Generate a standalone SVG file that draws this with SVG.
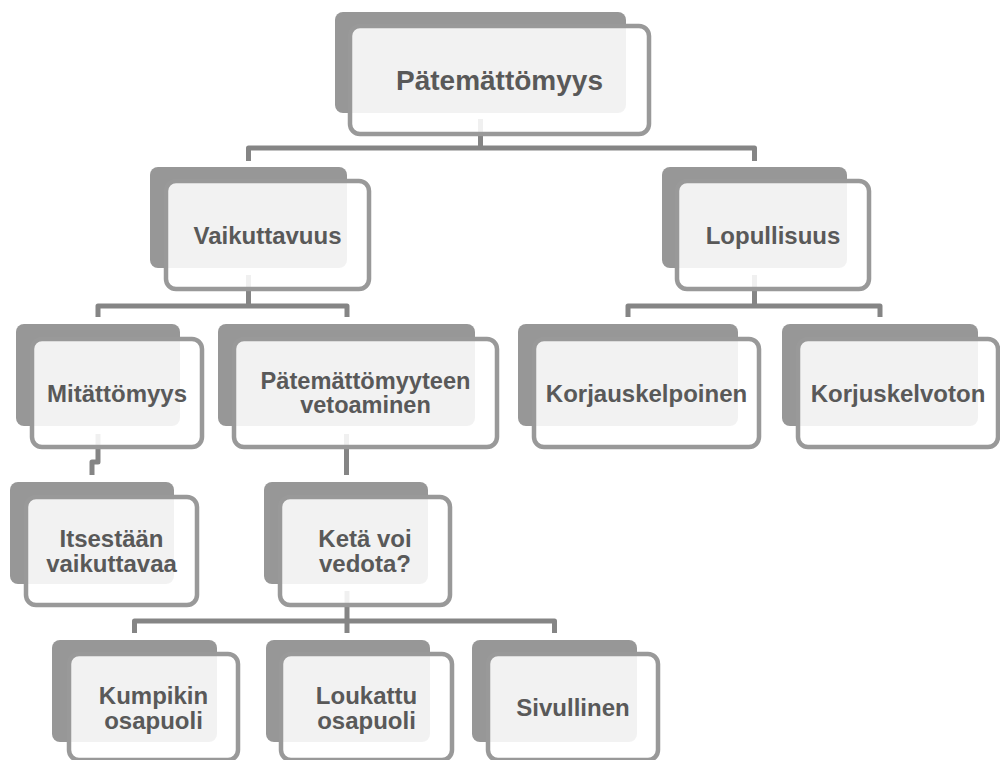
<svg xmlns="http://www.w3.org/2000/svg" width="1000" height="760" viewBox="0 0 1000 760">
<style>
.bk{fill:#979797}
.fr{fill:#ffffff;fill-opacity:0.88;stroke:#999999;stroke-width:4.5}
.cn{fill:none;stroke:#858585;stroke-width:5;stroke-linejoin:round}
text{font-family:"Liberation Sans",Arial,sans-serif;font-weight:bold;fill:#595959;text-anchor:middle}
.t24{font-size:24px}
</style>
<rect width="1000" height="760" fill="#ffffff"/>
<g id="connectors">
<path class="cn" d="M248.5,161 V148 H754.5 V161 M480.5,119 V148"/>
<path class="cn" d="M98,317 V306 H347 V317 M248.5,275 V306"/>
<path class="cn" d="M628,317 V306 H880 V317 M754.5,275 V306"/>
<path class="cn" d="M98,434 V462 H92 V475"/>
<path class="cn" d="M346.5,434 V475"/>
<path class="cn" d="M134.5,633 V621 H554.5 V633 M347,591 V633"/>
</g>
<g id="n0">
<rect class="bk" x="335" y="12" width="291" height="101" rx="8"/>
<rect class="fr" x="350" y="26" width="299" height="108" rx="10"/>
<text x="499.5" y="89.5" style="font-size:28px">Pätemättömyys</text>
</g>
<g id="n1">
<rect class="bk" x="150" y="167" width="197" height="101" rx="8"/>
<rect class="fr" x="166" y="181" width="203" height="108" rx="10"/>
<text class="t24" x="267.5" y="243.6">Vaikuttavuus</text>
</g>
<g id="n2">
<rect class="bk" x="662" y="167" width="185" height="101" rx="8"/>
<rect class="fr" x="677" y="181" width="192" height="108" rx="10"/>
<text class="t24" x="773" y="243.6">Lopullisuus</text>
</g>
<g id="n3">
<rect class="bk" x="16" y="324" width="164" height="102" rx="8"/>
<rect class="fr" x="32" y="339" width="170" height="108" rx="10"/>
<text class="t24" x="117" y="401.6">Mitättömyys</text>
</g>
<g id="n4">
<rect class="bk" x="218" y="324" width="257" height="102" rx="8"/>
<rect class="fr" x="234" y="339" width="263" height="108" rx="10"/>
<text x="365.5" y="389" style="font-size:23.5px" textLength="210" lengthAdjust="spacingAndGlyphs">Pätemättömyyteen</text>
<text x="365.5" y="413" style="font-size:23.5px">vetoaminen</text>
</g>
<g id="n5">
<rect class="bk" x="518" y="324" width="220" height="102" rx="8"/>
<rect class="fr" x="534" y="339" width="225" height="108" rx="10"/>
<text class="t24" x="646.5" y="401.6">Korjauskelpoinen</text>
</g>
<g id="n6">
<rect class="bk" x="782" y="324" width="196" height="102" rx="8"/>
<rect class="fr" x="798" y="339" width="200" height="108" rx="10"/>
<text class="t24" x="898" y="401.6">Korjuskelvoton</text>
</g>
<g id="n7">
<rect class="bk" x="10" y="482" width="164" height="102" rx="8"/>
<rect class="fr" x="26" y="497" width="171" height="108" rx="10"/>
<text class="t24" x="111.5" y="546.5">Itsestään</text>
<text class="t24" x="111.5" y="571.5">vaikuttavaa</text>
</g>
<g id="n8">
<rect class="bk" x="264" y="482" width="164" height="102" rx="8"/>
<rect class="fr" x="280" y="497" width="170" height="108" rx="10"/>
<text class="t24" x="365" y="546.5">Ketä voi</text>
<text class="t24" x="365" y="571.5">vedota?</text>
</g>
<g id="n9">
<rect class="bk" x="52" y="640" width="165" height="102" rx="8"/>
<rect class="fr" x="69" y="654" width="169" height="106" rx="10"/>
<text class="t24" x="153.5" y="704">Kumpikin</text>
<text class="t24" x="153.5" y="728.5">osapuoli</text>
</g>
<g id="n10">
<rect class="bk" x="266" y="640" width="164" height="102" rx="8"/>
<rect class="fr" x="281" y="654" width="171" height="106" rx="10"/>
<text class="t24" x="366.5" y="704">Loukattu</text>
<text class="t24" x="366.5" y="728.5">osapuoli</text>
</g>
<g id="n11">
<rect class="bk" x="472" y="640" width="165" height="102" rx="8"/>
<rect class="fr" x="488" y="654" width="170" height="106" rx="10"/>
<text class="t24" x="573" y="716">Sivullinen</text>
</g>
</svg>
